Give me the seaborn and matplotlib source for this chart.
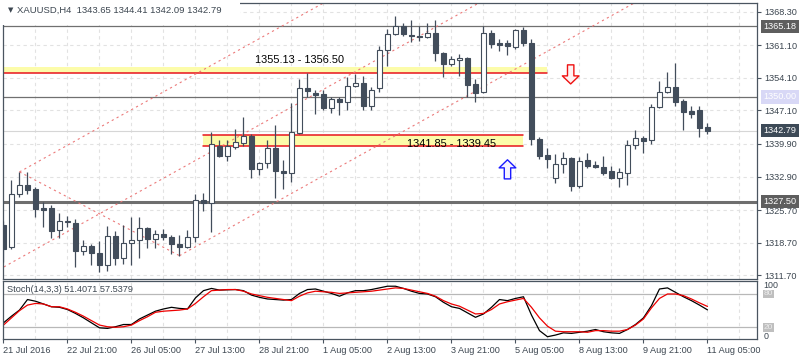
import numpy as np
import pandas as pd
import matplotlib
matplotlib.use('Agg')
import matplotlib.pyplot as plt
import matplotlib.transforms as mtransforms
from matplotlib.patches import Rectangle
import seaborn as sns

sns.set_style('white')
plt.rcParams['font.family'] = ['Liberation Sans', 'DejaVu Sans']

# --- data (XAUUSD H4) ---
symbol = 'XAUUSD,H4'
opens = [1322.4, 1317.7, 1329.1, 1331.1, 1330.2, 1326.1, 1326.1, 1321.4, 1323.1, 1322.9,
         1316.9, 1318.0, 1316.4, 1313.8, 1320.1, 1315.5, 1318.6, 1319.2, 1321.8, 1319.4,
         1320.5, 1319.9, 1318.4, 1317.8, 1320.0, 1327.9, 1327.2, 1339.5, 1337.4, 1339.2,
         1340.2, 1341.7, 1334.5, 1335.8, 1339.0, 1334.1, 1333.6, 1342.3, 1351.9, 1350.9,
         1350.6, 1347.7, 1349.6, 1349.0, 1352.4, 1352.9, 1348.1, 1351.9, 1360.1, 1363.5,
         1365.2, 1363.4, 1363.1, 1362.8, 1363.7, 1359.5, 1357.0, 1357.9, 1358.3, 1352.7,
         1351.0, 1363.7, 1361.7, 1361.7, 1360.8, 1364.4, 1361.7, 1341.0, 1337.5, 1332.5,
         1335.5, 1336.8, 1330.9, 1336.5, 1335.4, 1335.0, 1334.1, 1332.5, 1333.6, 1339.6,
         1341.2, 1340.7, 1347.8, 1351.1, 1352.2, 1349.1, 1347.0, 1347.2, 1343.65]
highs = [1323.3, 1332.2, 1333.9, 1333.8, 1330.7, 1327.5, 1326.8, 1325.0, 1324.4, 1323.7,
         1319.3, 1318.4, 1319.1, 1322.3, 1321.1, 1322.5, 1324.3, 1324.3, 1322.1, 1321.4,
         1321.6, 1320.4, 1320.4, 1321.4, 1329.1, 1329.4, 1342.4, 1340.8, 1340.8, 1343.1,
         1345.6, 1342.0, 1336.1, 1340.8, 1343.9, 1336.5, 1348.8, 1353.8, 1355.1, 1351.5,
         1351.5, 1350.1, 1350.1, 1354.2, 1354.9, 1354.4, 1352.1, 1361.0, 1364.7, 1367.5,
         1365.8, 1366.5, 1365.2, 1365.8, 1366.5, 1359.7, 1358.9, 1359.2, 1358.5, 1353.8,
         1365.2, 1364.4, 1362.5, 1362.2, 1364.7, 1365.0, 1362.4, 1341.3, 1339.1, 1337.7,
         1338.2, 1337.2, 1337.0, 1338.0, 1336.3, 1337.3, 1335.2, 1334.7, 1340.8, 1342.8,
         1341.6, 1348.5, 1353.4, 1355.3, 1357.2, 1349.5, 1348.1, 1348.1, 1344.41]
lows = [1314.6, 1317.3, 1328.6, 1329.2, 1324.3, 1322.0, 1319.8, 1319.6, 1322.1, 1313.5,
        1316.1, 1313.9, 1312.3, 1312.7, 1313.8, 1314.1, 1313.9, 1315.4, 1317.5, 1317.5,
        1319.3, 1316.3, 1315.9, 1317.5, 1318.9, 1325.4, 1320.9, 1337.0, 1336.3, 1338.8,
        1339.5, 1332.5, 1333.2, 1334.7, 1328.4, 1330.2, 1331.8, 1342.0, 1349.9, 1346.3,
        1347.2, 1346.6, 1346.1, 1347.1, 1352.1, 1347.2, 1347.1, 1351.1, 1356.6, 1363.3,
        1363.1, 1361.9, 1362.0, 1362.7, 1357.8, 1354.2, 1356.6, 1354.4, 1349.9, 1349.0,
        1350.8, 1360.5, 1359.8, 1359.0, 1360.2, 1360.9, 1339.7, 1336.7, 1334.7, 1331.5,
        1333.6, 1329.9, 1330.4, 1334.7, 1334.7, 1333.2, 1332.3, 1330.7, 1331.1, 1338.8,
        1338.0, 1340.0, 1347.6, 1350.8, 1348.1, 1342.8, 1345.5, 1341.5, 1342.09]
closes = [1317.4, 1329.1, 1331.0, 1330.1, 1325.9, 1325.8, 1321.3, 1323.3, 1323.3, 1316.8,
          1318.0, 1316.4, 1313.8, 1320.1, 1315.5, 1318.6, 1319.2, 1321.8, 1319.4, 1320.5,
          1320.0, 1318.4, 1317.8, 1320.0, 1327.9, 1327.2, 1339.8, 1337.4, 1339.5, 1340.3,
          1341.7, 1334.5, 1335.8, 1339.0, 1334.0, 1333.7, 1342.4, 1351.9, 1351.3, 1350.4,
          1347.7, 1349.5, 1348.9, 1352.4, 1352.9, 1348.1, 1351.6, 1360.1, 1363.5, 1365.2,
          1363.5, 1363.1, 1362.8, 1363.7, 1359.4, 1357.0, 1358.1, 1358.3, 1352.6, 1350.9,
          1363.7, 1361.3, 1361.1, 1360.9, 1364.4, 1361.7, 1340.9, 1337.4, 1336.6, 1335.5,
          1336.8, 1330.9, 1336.3, 1335.2, 1335.0, 1333.7, 1332.5, 1333.8, 1339.7, 1341.1,
          1340.6, 1347.8, 1351.1, 1352.2, 1349.0, 1346.8, 1346.4, 1343.4, 1342.79]

stoch_main = [28, 40, 51, 70, 67, 62, 57, 56, 52, 45,
              37, 28, 19, 18, 21, 25, 25, 35, 42, 49,
              53, 56, 54, 53, 73, 86, 90, 87, 87.5, 88,
              86, 78, 74, 71, 70, 69, 70, 81, 88, 89,
              85, 81, 76, 82, 86, 86, 88, 91, 94, 94,
              90, 85, 81, 80, 75, 65, 57, 54, 46, 38,
              44, 56, 70, 68, 72, 75, 42, 14, 3, 6,
              10, 9, 11, 13, 16, 12, 10, 9, 16, 25,
              37, 59, 89, 91, 83, 75, 68, 60, 51.4071]
stoch_signal = [24, 37, 50, 60, 63, 62, 57, 57, 53, 47,
                40, 32, 24, 21, 20, 21, 24, 32, 39, 47,
                49, 50, 51, 53, 63, 75, 86, 87, 88, 88,
                85, 80, 77, 74, 72, 70, 68, 76, 82, 85,
                84, 83, 81, 82, 83, 84, 85, 87, 89, 91,
                90, 87, 84, 81, 76, 68, 62, 58, 51, 44,
                45, 52, 62, 66, 69, 72, 56, 37, 22, 13,
                12, 12, 12, 11, 14, 14, 13, 13, 16, 24,
                35, 55, 72, 80, 80, 77, 71, 64, 57.5379]

date_labels = ['21 Jul 2016', '22 Jul 21:00', '26 Jul 05:00', '27 Jul 13:00',
               '28 Jul 21:00', '1 Aug 05:00', '2 Aug 13:00', '3 Aug 21:00',
               '5 Aug 05:00', '8 Aug 13:00', '9 Aug 21:00', '11 Aug 05:00']
price_ticks = [1368.30, 1361.10, 1354.10, 1347.10, 1339.90, 1332.90, 1325.70, 1318.70, 1311.70]

resistance = 1365.18
pivot_level = 1350.00
support = 1327.50
upper_zone = (1355.13, 1356.50)
lower_zone = (1339.45, 1341.85)
channel_slope = 0.955  # price per bar

df = pd.DataFrame({'open': opens, 'high': highs, 'low': lows, 'close': closes,
                   'k': stoch_main, 'd': stoch_signal})
df['bar'] = np.arange(len(df))
last = df.iloc[-1]

dark = '#424d5b'
text_c = '#3c4650'
spine_c = '#4a5560'
grid_c = '#e2e2e2'

fig = plt.figure(figsize=(8, 3.6), dpi=100)
ax = fig.add_axes([3 / 800, 1 - 279 / 360, 754 / 800, 276 / 360])
ax2 = fig.add_axes([3 / 800, 1 - 339 / 360, 754 / 800, 58 / 360])
xlim = (-0.06, 94.19)

# grid
for g in range(4, 96, 4):
    ax.axvline(g, color=grid_c, lw=0.8, ls=(0, (3, 3)), zorder=0.5)
    ax2.axvline(g, color=grid_c, lw=0.8, ls=(0, (3, 3)), zorder=0.5)
for t in price_ticks:
    ax.axhline(t, color=grid_c, lw=0.8, ls=(0, (3, 3)), zorder=0.5)

# zones
ax.fill_between([-1, 67.9], upper_zone[0], upper_zone[1], color='#fcfcaa', lw=0, zorder=1)
ax.plot([-1, 67.9], [upper_zone[0]] * 2, color='#e8141c', lw=1.1, zorder=1.5)
ax.fill_between([24.9, 64.9], lower_zone[0], lower_zone[1], color='#fcfcaa', lw=0, zorder=1)
ax.plot([24.9, 64.9], [lower_zone[0]] * 2, color='#e8141c', lw=1.1, zorder=1.5)
ax.plot([24.9, 64.9], [lower_zone[1]] * 2, color='#e8141c', lw=1.1, zorder=1.5)
ax.text(31.4, 1358.05, '%.2f - %.2f' % upper_zone, fontsize=7.9, color='black',
        va='center', ha='left', zorder=6)
ax.text(50.4, 1340.0, '%.2f - %.2f' % (lower_zone[1], lower_zone[0]), fontsize=7.9,
        color='black', va='center', ha='left', zorder=6)

# horizontal levels
ax.axhline(resistance, color='#707070', lw=0.9, zorder=2)
ax.axhline(pivot_level, color='#707070', lw=0.9, zorder=2)
ax.axhline(support, color='#6e6e6e', lw=2.2, zorder=2)
ax.axhline(last['close'], color='#d6d6d6', lw=0.8, zorder=1.2)

# channel built from pivot high (bar 2) and pivot low (bar 22)
ph_bar, pl_bar = 2, 22
ph, pl = highs[ph_bar], lows[pl_bar]
ch = dict(color='#ec7a7a', lw=0.8, ls=(0, (2, 3)), zorder=2)
end = 100
ax.plot([ph_bar, end], [ph, ph + (end - ph_bar) * channel_slope], **ch)
ax.plot([ph_bar, pl_bar], [ph, pl], **ch)
ax.plot([pl_bar, end], [pl, pl + (end - pl_bar) * channel_slope], **ch)
mid22 = (ph + (pl_bar - ph_bar) * channel_slope + pl) / 2
ax.plot([-2, end], [mid22 - (pl_bar + 2) * channel_slope, mid22 + (end - pl_bar) * channel_slope], **ch)

# candles
up = df['close'] >= df['open']
ax.vlines(df['bar'], df['low'], df['high'], color=dark, lw=0.9, zorder=3)
body_h = (df['close'] - df['open']).abs()
body_b = df[['open', 'close']].min(axis=1)
ax.bar(df['bar'], body_h, bottom=body_b, width=0.64,
       color=np.where(up, 'white', dark), edgecolor=dark, linewidth=0.8, zorder=4)

# arrows
ax.annotate('', xy=(70.9, 1352.8), xytext=(70.9, 1356.9),
            arrowprops=dict(arrowstyle='simple,head_length=5.8,head_width=12,tail_width=4.6',
                            mutation_scale=1, fc='#fff2f2', ec='#ee1111', lw=1,
                            shrinkA=0, shrinkB=0), zorder=5)
ax.annotate('', xy=(63, 1336.5), xytext=(63, 1332.4),
            arrowprops=dict(arrowstyle='simple,head_length=5.8,head_width=12,tail_width=4.6',
                            mutation_scale=1, fc='#f6f2ff', ec='#1a1aff', lw=1,
                            shrinkA=0, shrinkB=0), zorder=5)

ax.set_xlim(*xlim)
ax.set_ylim(1310.89, 1370.19)
ax.set_xticks([])
ax.yaxis.tick_right()
ax.set_yticks(price_ticks)
ax.set_yticklabels(['%.2f' % t for t in price_ticks])
ax.tick_params(axis='y', length=3, width=0.8, color=spine_c, labelsize=6.6,
               labelcolor=text_c, pad=2)
for s in ax.spines.values():
    s.set_color(spine_c)
    s.set_linewidth(0.9)

# right-hand price boxes
tr = mtransforms.blended_transform_factory(ax.transAxes, ax.transData)
for val, fc, tc in [(resistance, '#5e5e5e', 'white'), (pivot_level, '#d8d8f6', 'white'),
                    (last['close'], '#3d4a57', 'white'), (support, '#5e5e5e', 'white')]:
    ax.text(1.0085, val, '%.2f' % val, transform=tr, fontsize=6.6, color=tc,
            va='center', ha='left', zorder=7,
            bbox=dict(boxstyle='square,pad=0.25', fc=fc, ec='none'))

# stochastic
sns.lineplot(data=df, x='bar', y='k', ax=ax2, color='black', lw=0.9)
sns.lineplot(data=df, x='bar', y='d', ax=ax2, color='#ee0000', lw=0.9)
ax2.axhline(80, color='#b8b8b8', lw=0.9, zorder=1)
ax2.axhline(20, color='#b8b8b8', lw=0.9, zorder=1)
ax2.set_xlim(*xlim)
ax2.set_ylim(-1.1, 103.4)
ax2.set_ylabel('')
ax2.set_xlabel('')
ax2.set_yticks([])
ax2.set_xticks(df['bar'][::8])
ax2.set_xticklabels(date_labels, ha='left')
ax2.tick_params(axis='x', length=3, width=0.8, color=spine_c, labelsize=6.6,
                labelcolor=text_c, pad=2, direction='out', bottom=True)
for s in ax2.spines.values():
    s.set_color(spine_c)
    s.set_linewidth(0.9)
tr2 = mtransforms.blended_transform_factory(ax2.transAxes, ax2.transData)
ax2.text(1.0085, 96, '100', transform=tr2, fontsize=6.4, color=text_c, va='center', ha='left')
ax2.text(1.0085, 4, '0', transform=tr2, fontsize=6.4, color=text_c, va='center', ha='left')
for lv in (80, 20):
    ax2.text(1.0085, lv, str(lv), transform=tr2, fontsize=6.0, color='#ececec', va='center',
             ha='left', bbox=dict(boxstyle='square,pad=0.1', fc='#bfbfbf', ec='none'))
ax2.text(0.0053, 0.845, 'Stoch(14,3,3) %.4f %.4f' % (stoch_main[-1], stoch_signal[-1]),
         transform=ax2.transAxes, fontsize=6.6, color=text_c, va='center', ha='left')

# header
fig.add_artist(Rectangle((0, 1 - 25 / 360), 240 / 800, 25 / 360, transform=fig.transFigure,
                         facecolor='white', edgecolor='none', zorder=5))
fig.text(8 / 800, 1 - 10.5 / 360, '\u25bc', family='DejaVu Sans', fontsize=5,
         color=text_c, va='center', ha='left', zorder=6)
fig.text(17 / 800, 1 - 10.5 / 360, '%s  %.2f %.2f %.2f %.2f' % (symbol, last['open'], last['high'],
                                                               last['low'], last['close']),
         fontsize=6.8, color=text_c, va='center', ha='left', zorder=6)

fig.savefig('out.png', dpi=100)
